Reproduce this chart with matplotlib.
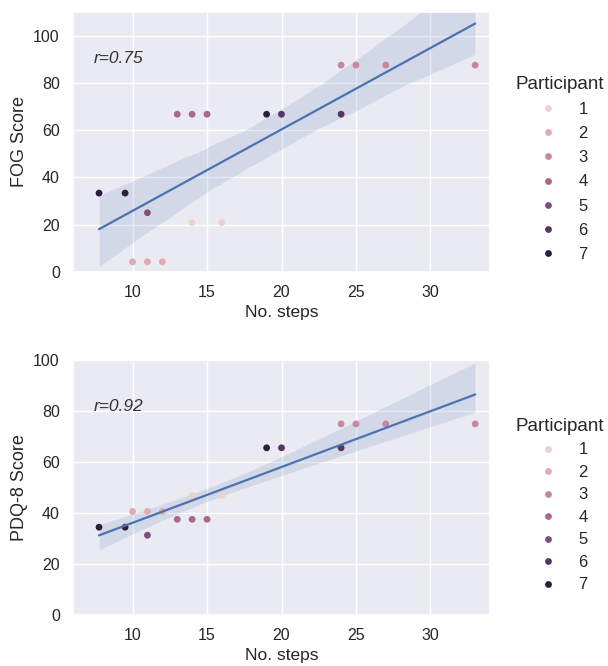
import matplotlib
matplotlib.use("Agg")
import matplotlib.pyplot as plt
import numpy as np
import pandas as pd
import seaborn as sns

# steps and scores per trial
participant = [1, 1, 2, 2, 2, 3, 3, 3, 3, 4, 4, 4, 5, 6, 6, 7, 7, 7]
n_steps = [14, 16, 10, 11, 12, 24, 25, 27, 33, 13, 14, 15, 11, 20, 24, 7.75, 9.5, 19]
fog_score = [20.8, 20.8, 4.2, 4.2, 4.2, 87.5, 87.5, 87.5, 87.5,
             66.7, 66.7, 66.7, 25.0, 66.7, 66.7, 33.3, 33.3, 66.7]
pdq8_score = [46.9, 46.9, 40.6, 40.6, 40.6, 75.0, 75.0, 75.0, 75.0,
              37.5, 37.5, 37.5, 31.25, 65.6, 65.6, 34.4, 34.4, 65.6]

r_labels = ['r=0.75', 'r=0.92']
y_labels = ['FOG Score', 'PDQ-8 Score']
y_limits = [(0, 110), (0, 100)]

df = pd.DataFrame({'Participant': participant, 'steps': n_steps,
                   'FOG': fog_score, 'PDQ8': pdq8_score})

sns.set_theme(style='darkgrid')
plt.rcParams['font.family'] = ['Liberation Sans', 'DejaVu Sans']

fig = plt.figure(figsize=(6.08, 6.66), dpi=100)
ax1 = fig.add_axes([0.120, 0.592, 0.686, 0.390])
ax2 = fig.add_axes([0.120, 0.077, 0.686, 0.382])

palette = sns.cubehelix_palette(7)

# legend placement differs a little between the two panels
leg_top = [0.78, 0.80]
leg_spacing = [0.55, 0.45]

for i, (ax, col) in enumerate(zip([ax1, ax2], ['FOG', 'PDQ8'])):
    sns.regplot(data=df, x='steps', y=col, ax=ax, scatter=False,
                color='#4c72b0', seed=3, line_kws={'linewidth': 1.6})
    sns.scatterplot(data=df, x='steps', y=col, hue='Participant', palette=palette,
                    legend='full', s=24, linewidth=0, ax=ax)
    ax.set_xlim(6, 34)
    ax.set_ylim(*y_limits[i])
    ax.set_yticks([0, 20, 40, 60, 80, 100])
    ax.set_xticks([10, 15, 20, 25, 30])
    ax.tick_params(labelsize=11.5)
    ax.set_xlabel('No. steps', fontsize=12.5, labelpad=4)
    ax.set_ylabel(y_labels[i], fontsize=13)
    ax.text(0.05, 0.82, r_labels[i], transform=ax.transAxes,
            fontsize=12.5, style='italic', color='#333333', va='center')
    ax.legend(title='Participant', loc='upper left', bbox_to_anchor=(1.045, leg_top[i]),
              borderaxespad=0, frameon=False, fontsize=12, title_fontsize=13.5,
              handletextpad=0.8, labelspacing=leg_spacing[i])

fig.savefig('out.png', dpi=100)
